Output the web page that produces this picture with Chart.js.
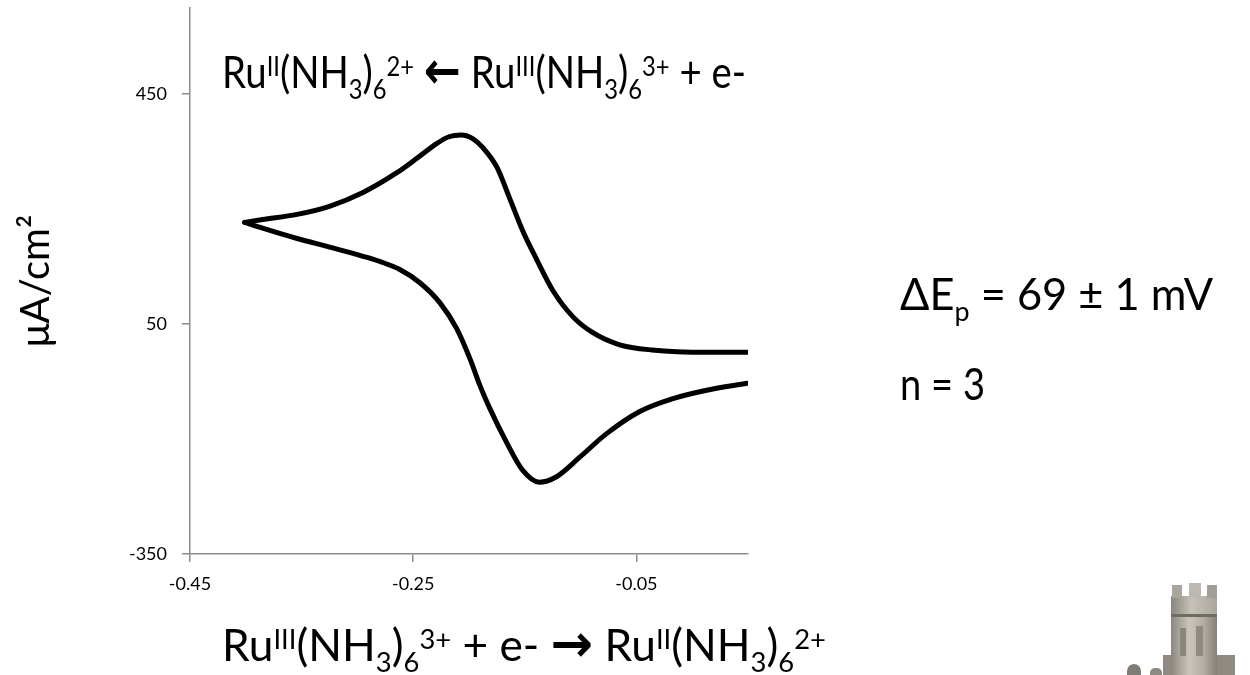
<!DOCTYPE html>
<html>
<head>
<meta charset="utf-8">
<script src="https://cdn.jsdelivr.net/npm/chart.js@4.4.1/dist/chart.umd.min.js"></script>
<style>
  html, body { margin:0; padding:0; background:#fff; }
  #wrap { position:relative; width:1250px; height:675px; overflow:hidden; background:#fff; }
  canvas { position:absolute; left:0; top:0; }
  .ann { position:absolute; white-space:nowrap; font-family:'Lato','Liberation Sans',sans-serif; color:#000; line-height:1; transform-origin:0 0; }
  .ann sup, .ann sub { font-size:62%; position:relative; vertical-align:baseline; line-height:0; }
  .ann sup { top:-0.42em; }
  .ann sub { top:0.38em; }
  .arr { font-family:'DejaVu Sans',sans-serif; font-weight:bold; font-size:115%; line-height:0; }
  .tw { position:absolute; }
</style>
</head>
<body>
<div id="wrap">
  <canvas id="c" width="1250" height="675"></canvas>
  <div class="ann" id="tTop" data-left="222" data-right="746" style="top:49px;font-size:45px;">Ru<sup>II</sup>(NH<sub>3</sub>)<sub>6</sub><sup>2+</sup> <span class="arr">←</span> Ru<sup>III</sup>(NH<sub>3</sub>)<sub>6</sub><sup>3+</sup> + e-</div>
  <div class="ann" id="tBot" data-left="222" data-right="826" style="top:622px;font-size:45px;">Ru<sup>III</sup>(NH<sub>3</sub>)<sub>6</sub><sup>3+</sup> + e- <span class="arr">→</span> Ru<sup>II</sup>(NH<sub>3</sub>)<sub>6</sub><sup>2+</sup></div>
  <div class="ann" id="tDE" data-left="900" data-right="1213" style="top:271px;font-size:45px;">ΔE<sub>p</sub> = 69 ± 1 mV</div>
  <div class="ann" id="tN" data-left="900" data-right="985" style="top:361px;font-size:45px;">n = 3</div>
  <!-- decorative tower -->
  <div class="tw" style="left:1127px;top:664px;width:14px;height:14px;background:#7f7c76;border-radius:7px 7px 0 0;"></div>
  <div class="tw" style="left:1150px;top:668px;width:12px;height:10px;background:#8d8a83;border-radius:5px 5px 0 0;"></div>
  <div class="tw" style="left:1163px;top:655px;width:72px;height:20px;background:#8e8a82;"></div>
  <div class="tw" style="left:1171px;top:612px;width:46px;height:63px;background:linear-gradient(90deg,#8c8880,#c9c5bc 40%,#b3afa6 70%,#85817a);"></div>
  <div class="tw" style="left:1171px;top:596px;width:46px;height:18px;background:linear-gradient(90deg,#8a867e,#c6c2b9 45%,#aaa69d);border-bottom:3px solid #6f6c66;"></div>
  <div class="tw" style="left:1172px;top:585px;width:10px;height:13px;background:#aaa69d;"></div>
  <div class="tw" style="left:1189px;top:583px;width:12px;height:15px;background:#bdb9b0;"></div>
  <div class="tw" style="left:1207px;top:585px;width:10px;height:13px;background:#a29e95;"></div>
  <div class="tw" style="left:1180px;top:628px;width:6px;height:28px;background:#8a867e;"></div>
  <div class="tw" style="left:1196px;top:626px;width:7px;height:30px;background:#8f8b83;"></div>
</div>
<script>
// Potential (V) and current density (µA/cm²)
// upper (cathodic) branch, ascending potential
const upperE = [-0.401, -0.385, -0.354, -0.325, -0.295, -0.265, -0.247, -0.229, -0.218, -0.207, -0.196, -0.188, -0.175, -0.164, -0.152, -0.139, -0.125, -0.107, -0.089, -0.065, -0.036, 0.013, 0.049];
const upperI = [227, 232, 241, 255, 279, 313, 338, 364, 376, 379, 372, 358, 323, 271, 213, 161, 109, 63, 35, 14, 5, 1, 1];
// lower (anodic) branch, ascending potential
const lowerE = [-0.401, -0.385, -0.354, -0.325, -0.295, -0.280, -0.262, -0.244, -0.226, -0.211, -0.199, -0.190, -0.182, -0.166, -0.152, -0.137, -0.122, -0.101, -0.077, -0.047, -0.018, 0.013, 0.049];
const lowerI = [227, 217, 199, 184, 168, 159, 145, 122, 87, 42, -11, -58, -94, -157, -204, -225, -216, -182, -141, -102, -80, -65, -53];
const xTicks = [-0.45, -0.25, -0.05];
const yTicks = [-350, 50, 450];
const yTitle = 'μA/cm²';

const toPts = (E, I) => E.map((e, i) => ({x: e, y: I[i]}));
const lineStyle = {
  showLine: true, borderColor: '#000', borderWidth: 5, pointRadius: 0,
  cubicInterpolationMode: 'monotone', borderCapStyle: 'round', borderJoinStyle: 'round', fill: false
};

const tickFont = {family: "'Lato','Liberation Sans',sans-serif", size: 18};

new Chart(document.getElementById('c'), {
  type: 'scatter',
  data: { datasets: [
    Object.assign({ data: toPts(upperE, upperI) }, lineStyle),
    Object.assign({ data: toPts(lowerE, lowerI) }, lineStyle)
  ]},
  options: {
    responsive: false, animation: false, devicePixelRatio: 1,
    layout: { padding: { top: 8, right: 502, left: 0, bottom: 0 } },
    plugins: { legend: { display: false }, tooltip: { enabled: false } },
    scales: {
      x: {
        type: 'linear', min: -0.45, max: 0.05,
        afterBuildTicks: s => { s.ticks = xTicks.map(v => ({value: v})); },
        afterFit: s => { s.height = 121; s.paddingLeft = 0; s.paddingRight = 0; },
        ticks: { font: tickFont, color: '#000', padding: 11, maxRotation: 0, callback: v => v.toFixed(2) },
        grid: { drawOnChartArea: false, drawTicks: true, tickLength: 8, color: '#8c8c8c', lineWidth: 1.5 },
        border: { display: true, color: '#8c8c8c', width: 1.5 }
      },
      y: {
        type: 'linear', min: -350, max: 600,
        afterBuildTicks: s => { s.ticks = yTicks.map(v => ({value: v})); },
        afterFit: s => { s.width = 190; s.paddingTop = 0; s.paddingBottom = 0; },
        ticks: { font: tickFont, color: '#000', padding: 15, callback: v => String(v) },
        grid: { drawOnChartArea: false, drawTicks: true, tickLength: 8, color: '#8c8c8c', lineWidth: 1.5 },
        border: { display: true, color: '#8c8c8c', width: 1.5 },
        title: { display: true, text: yTitle, color: '#000', font: {family: "'Lato','Liberation Sans',sans-serif", size: 40}, padding: {top: 12, bottom: 0} }
      }
    }
  }
});

document.querySelectorAll('.ann').forEach(el => {
  const l = +el.dataset.left, r = +el.dataset.right;
  el.style.left = l + 'px';
  const w = el.getBoundingClientRect().width;
  el.style.transform = 'scaleX(' + ((r - l) / w) + ')';
});
</script>
</body>
</html>
